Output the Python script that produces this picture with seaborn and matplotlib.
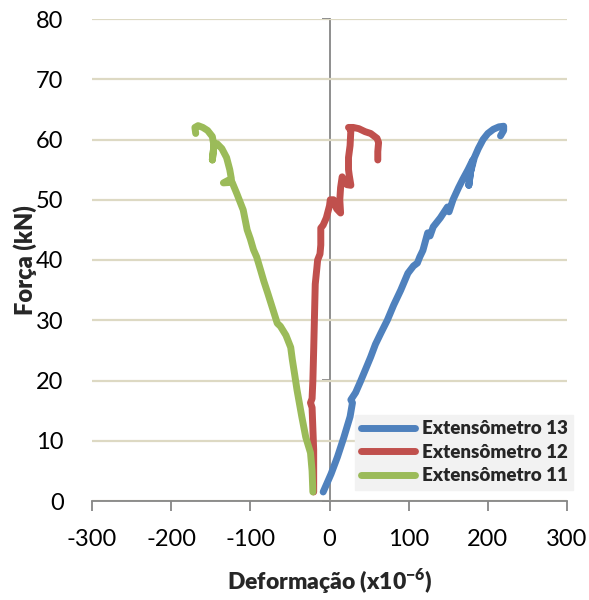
import numpy as np
import pandas as pd
import matplotlib
matplotlib.use("Agg")
import matplotlib.pyplot as plt
import seaborn as sns

# ---- data ----
x13 = [-8, 2, 10, 18, 26, 29, 27, 33, 39, 46, 52, 58, 65, 73, 81, 90, 99, 106, 111, 114, 118,
       124, 127, 131, 140, 149, 151, 156, 163, 168, 175, 181, 178, 176, 178, 183, 188,
       194, 200, 207, 214, 220, 220, 216]
y13 = [1.5, 4.5, 7.3, 10.5, 14, 16.3, 16.8, 18, 19.8, 22, 23.9, 26, 27.9, 30, 32.5, 35, 37.8,
       39, 39.5, 40.5, 41.6, 44.5, 44, 45.5, 47, 48.8, 48, 50, 52, 53.3, 55, 56.6, 54.5,
       52.4, 54.5, 57, 58.5, 60, 61, 61.7, 62.1, 62.2, 61.5, 60.6]

x12 = [-20, -20, -20, -21, -22, -24, -22, -21, -20, -19, -18, -16, -15, -12, -11, -11, -8,
       -4, 0, 1, 5, 9, 14, 13, 14, 16, 22, 27, 25, 24, 24, 26, 27, 24, 30, 37, 45, 52, 60,
       62, 61, 61]
y12 = [1.5, 5, 8.5, 12, 15.5, 16.3, 17, 20, 25, 30.5, 36, 38.6, 40, 41, 42.5, 45.3, 45.8,
       47, 49, 50, 50, 48.5, 47.8, 50, 52, 53.8, 52.5, 52.4, 54, 55, 57, 59, 61.6, 62, 62,
       61.8, 61.3, 61, 60.2, 59.5, 58, 56.6]

x11 = [-21, -22, -24, -30, -35, -41, -44, -47, -49, -55, -62, -66, -72, -78, -83, -87, -92,
       -96, -100, -104, -109, -117, -123, -134, -124, -126, -130, -136, -142, -146, -148,
       -146, -148, -154, -160, -166, -170, -169]
y11 = [1.5, 5, 8, 10.6, 14, 18.4, 21, 23.5, 25.5, 27.5, 29, 29.5, 32, 34.5, 36.5, 38.3, 40.5,
       41.7, 43.5, 45, 48.3, 51, 52.9, 52.8, 53.5, 55, 57, 58.5, 59.3, 59, 56.6, 59, 60.5,
       61.5, 62, 62.3, 62, 61]

labels = ["Extensômetro 13", "Extensômetro 12", "Extensômetro 11"]
colors = ["#4F81BD", "#C0504D", "#9BBB59"]
xticks = [-300, -200, -100, 0, 100, 200, 300]
yticks = [0, 10, 20, 30, 40, 50, 60, 70, 80]

frames = []
for lab, xs, ys in zip(labels, [x13, x12, x11], [y13, y12, y11]):
    frames.append(pd.DataFrame({"x": xs, "y": ys, "serie": lab}))
df = pd.concat(frames, ignore_index=True)

sns.set_theme(style="white")
plt.rcParams["font.family"] = ["Lato", "DejaVu Sans"]
plt.rcParams["mathtext.fontset"] = "custom"
plt.rcParams["mathtext.rm"] = "Lato"
plt.rcParams["mathtext.bf"] = "Lato:heavy"

fig = plt.figure(figsize=(5.89, 6.0), dpi=100)
ax = fig.add_axes([92/589, 1-501/600, (567-92)/589, (501-19)/600])

sns.lineplot(data=df, x="x", y="y", hue="serie", hue_order=labels, palette=colors,
             sort=False, estimator=None, units="serie", lw=5, ax=ax,
             solid_capstyle="round", solid_joinstyle="round")

ax.set_xlim(-300, 300)
ax.set_ylim(0, 80)
ax.set_xticks(xticks)
ax.set_yticks(yticks)
ax.set_xticklabels([str(v) for v in xticks])
ax.set_yticklabels([str(v) for v in yticks])

for s in ["top", "right", "left"]:
    ax.spines[s].set_visible(False)
ax.spines["bottom"].set_color("#868686")
ax.spines["bottom"].set_linewidth(1.3)
ax.grid(axis="y", color="#DDD9C3", lw=1.6)
ax.grid(axis="x", visible=False)
ax.set_axisbelow(True)

ax.tick_params(axis="x", bottom=True, length=7, width=1.3, color="#868686",
               labelsize=17, pad=13, labelcolor="black")
ax.tick_params(axis="y", left=False, labelsize=17, pad=14.5, labelcolor="black")

# vertical axis crossing at x = 0
sec = ax.secondary_yaxis(0.5)
sec.set_alignment("left")
sec.set_yticks(yticks)
sec.tick_params(axis="y", left=True, right=False, labelleft=False, labelright=False,
                length=6, width=1.3, color="#868686")
sec.spines["left"].set_color("#868686")
sec.spines["left"].set_linewidth(1.3)

ax.set_xlabel(r"Deformação (x10$^{\mathbf{-6}}$)", fontsize=16.5, fontweight="heavy",
              labelpad=12)
ax.set_ylabel("Força (kN)", fontsize=17, fontweight="heavy", labelpad=-0.5)

leg = ax.legend(loc="lower right", bbox_to_anchor=(1.013, 0.023), borderaxespad=0,
                frameon=True, fancybox=False, facecolor="#F2F2F2", edgecolor="#F2F2F2",
                framealpha=1, prop={"weight": "heavy", "size": 13.5}, handlelength=2.9,
                labelspacing=0.35, borderpad=0.3, handletextpad=0.35)
for line in leg.get_lines():
    line.set_linewidth(5)
    line.set_solid_capstyle("round")

fig.savefig("out.png", dpi=100)
